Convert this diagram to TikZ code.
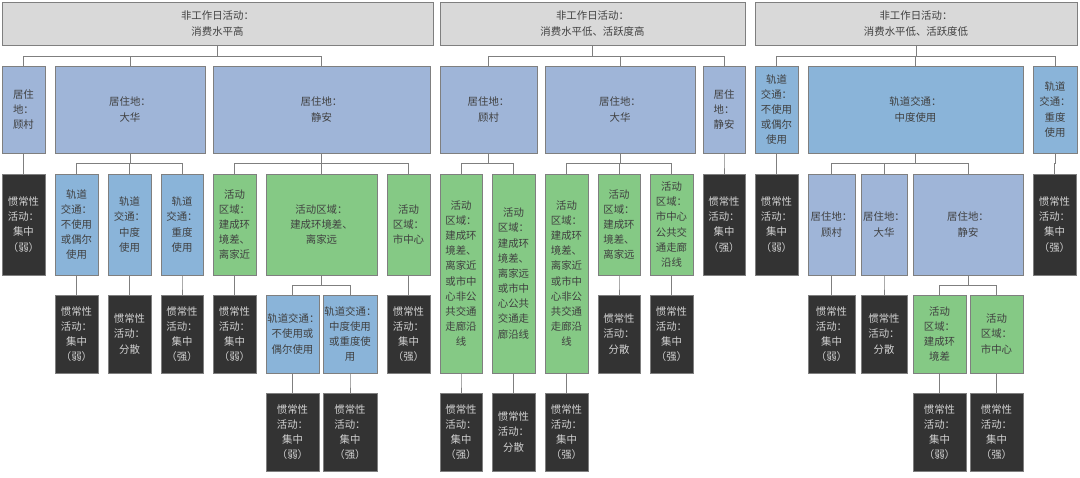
\documentclass[tikz,border=0pt]{standalone}
\usepackage{fontspec}
\setmainfont{Noto Sans CJK SC}
\usetikzlibrary{positioning}
\definecolor{topgray}{HTML}{D9D9D9}
\definecolor{homeblue}{HTML}{9FB5D8}
\definecolor{railblue}{HTML}{8AB4D9}
\definecolor{zonegreen}{HTML}{85C985}
\definecolor{habitdark}{HTML}{333333}
\definecolor{linegray}{HTML}{7F7F7F}

% box from (x1,y1) to (x2,y2) in pixels
\newcommand\bx[7]{\node[#1, minimum width={(#5-#3)*0.025cm}, minimum height={(#6-#4)*0.025cm},
  text width={(#5-#3)*0.025cm-2pt}] (#2) at ({(#3+#5)/2},{(#4+#6)/2}) {#7};}

\begin{document}
\begin{tikzpicture}[x=0.025cm, y=-0.025cm, font=\fontsize{7.4}{10.8}\selectfont]
\tikzset{
  basebox/.style={draw=linegray, line width=0.5pt, rectangle, inner sep=0pt, align=center, text=black!75},
  topbox/.style={basebox, fill=topgray},
  homebox/.style={basebox, fill=homeblue},
  railbox/.style={basebox, fill=railblue},
  zonebox/.style={basebox, fill=zonegreen},
  habitbox/.style={basebox, fill=habitdark, text=white!82!black},
  link/.style={draw=linegray, line width=0.6pt}
}
\useasboundingbox (0,0) rectangle (1080,478);
\fill[white] (0,0) rectangle (1080,478);

% top row
\bx{topbox}{T1}{2}{2}{433}{45}{非工作日活动：\\消费水平高}
\bx{topbox}{T2}{440}{2}{745}{45}{非工作日活动：\\消费水平低、活跃度高}
\bx{topbox}{T3}{755}{2}{1077}{45}{非工作日活动：\\消费水平低、活跃度低}

% second row
\bx{homebox}{A1}{2}{66}{45}{153}{居住\\地：\\顾村}
\bx{homebox}{A2}{55}{66}{205}{153}{居住地：\\大华}
\bx{homebox}{A3}{213}{66}{430}{153}{居住地：\\静安}
\bx{homebox}{B1}{440}{66}{537}{153}{居住地：\\顾村}
\bx{homebox}{B2}{545}{66}{695}{153}{居住地：\\大华}
\bx{homebox}{B3}{703}{66}{745}{153}{居住\\地：\\静安}
\bx{railbox}{C1}{755}{66}{798}{153}{轨道\\交通：\\不使用\\或偶尔\\使用}
\bx{railbox}{C2}{808}{66}{1023}{153}{轨道交通：\\中度使用}
\bx{railbox}{C3}{1033}{66}{1077}{153}{轨道\\交通：\\重度\\使用}

% third row
\bx{habitbox}{A1a}{2}{174}{45}{275}{惯常性\\活动：\\集中\\（弱）}
\bx{railbox}{A2a}{55}{174}{98}{275}{轨道\\交通：\\不使用\\或偶尔\\使用}
\bx{railbox}{A2b}{108}{174}{151}{275}{轨道\\交通：\\中度\\使用}
\bx{railbox}{A2c}{161}{174}{203}{275}{轨道\\交通：\\重度\\使用}
\bx{zonebox}{A3a}{213}{174}{256}{275}{活动\\区域：\\建成环\\境差、\\离家近}
\bx{zonebox}{A3b}{266}{174}{377}{275}{活动区域：\\建成环境差、\\离家远}
\bx{zonebox}{A3c}{387}{174}{430}{275}{活动\\区域：\\市中心}
\bx{zonebox}{B1a}{440}{174}{482}{373}{活动\\区域：\\建成环\\境差、\\离家近\\或市中\\心非公\\共交通\\走廊沿\\线}
\bx{zonebox}{B1b}{492}{174}{535}{373}{活动\\区域：\\建成环\\境差、\\离家远\\或市中\\心公共\\交通走\\廊沿线}
\bx{zonebox}{B2a}{545}{174}{588}{373}{活动\\区域：\\建成环\\境差、\\离家近\\或市中\\心非公\\共交通\\走廊沿\\线}
\bx{zonebox}{B2b}{598}{174}{640}{275}{活动\\区域：\\建成环\\境差、\\离家远}
\bx{zonebox}{B2c}{650}{174}{693}{275}{活动\\区域：\\市中心\\公共交\\通走廊\\沿线}
\bx{habitbox}{B3a}{703}{174}{745}{275}{惯常性\\活动：\\集中\\（强）}
\bx{habitbox}{C1a}{755}{174}{798}{275}{惯常性\\活动：\\集中\\（弱）}
\bx{homebox}{C2a}{808}{174}{855}{275}{居住地：\\顾村}
\bx{homebox}{C2b}{861}{174}{907}{275}{居住地：\\大华}
\bx{homebox}{C2c}{913}{174}{1023}{275}{居住地：\\静安}
\bx{habitbox}{C3a}{1033}{174}{1076}{275}{惯常性\\活动：\\集中\\（强）}

% fourth row
\bx{habitbox}{A2a1}{55}{295}{98}{373}{惯常性\\活动：\\集中\\（弱）}
\bx{habitbox}{A2b1}{108}{295}{151}{373}{惯常性\\活动：\\分散}
\bx{habitbox}{A2c1}{161}{295}{203}{373}{惯常性\\活动：\\集中\\（强）}
\bx{habitbox}{A3a1}{213}{295}{256}{373}{惯常性\\活动：\\集中\\（弱）}
\bx{railbox}{A3b1}{266}{295}{319}{373}{轨道交通：\\不使用或\\偶尔使用}
\bx{railbox}{A3b2}{323}{295}{377}{373}{轨道交通：\\中度使用\\或重度使\\用}
\bx{habitbox}{A3c1}{387}{295}{430}{373}{惯常性\\活动：\\集中\\（强）}
\bx{habitbox}{B2b1}{598}{295}{640}{373}{惯常性\\活动：\\分散}
\bx{habitbox}{B2c1}{650}{295}{693}{373}{惯常性\\活动：\\集中\\（强）}
\bx{habitbox}{C2a1}{808}{295}{855}{373}{惯常性\\活动：\\集中\\（弱）}
\bx{habitbox}{C2b1}{861}{295}{907}{373}{惯常性\\活动：\\分散}
\bx{zonebox}{C2c1}{913}{295}{966}{373}{活动\\区域：\\建成环\\境差}
\bx{zonebox}{C2c2}{970}{295}{1023}{373}{活动\\区域：\\市中心}

% fifth row
\bx{habitbox}{A3b11}{266}{393}{319}{471}{惯常性\\活动：\\集中\\（弱）}
\bx{habitbox}{A3b21}{323}{393}{377}{471}{惯常性\\活动：\\集中\\（强）}
\bx{habitbox}{B1a1}{440}{393}{482}{471}{惯常性\\活动：\\集中\\（强）}
\bx{habitbox}{B1b1}{492}{393}{535}{471}{惯常性\\活动：\\分散}
\bx{habitbox}{B2a1}{545}{393}{588}{471}{惯常性\\活动：\\集中\\（强）}
\bx{habitbox}{C2c11}{913}{393}{966}{471}{惯常性\\活动：\\集中\\（弱）}
\bx{habitbox}{C2c21}{970}{393}{1023}{471}{惯常性\\活动：\\集中\\（强）}

% connectors
\foreach \p/\c/\b in {T1/A1/56, T1/A2/56, T1/A3/56, T2/B1/56, T2/B2/56, T2/B3/56,
  T3/C1/56, T3/C2/56, T3/C3/56,
  A1/A1a/163, A2/A2a/163, A2/A2b/163, A2/A2c/163, A3/A3a/163, A3/A3b/163, A3/A3c/163,
  B1/B1a/163, B1/B1b/163, B2/B2a/163, B2/B2b/163, B2/B2c/163, B3/B3a/163,
  C1/C1a/163, C2/C2a/163, C2/C2b/163, C2/C2c/163, C3/C3a/163,
  A2a/A2a1/285, A2b/A2b1/285, A2c/A2c1/285, A3a/A3a1/285, A3b/A3b1/285, A3b/A3b2/285,
  A3c/A3c1/285, B2b/B2b1/285, B2c/B2c1/285, C2a/C2a1/285, C2b/C2b1/285,
  C2c/C2c1/285, C2c/C2c2/285,
  A3b1/A3b11/383, A3b2/A3b21/383, B1a/B1a1/383, B1b/B1b1/383, B2a/B2a1/383,
  C2c1/C2c11/383, C2c2/C2c21/383}
  \draw[link] (\p.south) -- (\p.south |- 0,\b) -| (\c.north);
\end{tikzpicture}
\end{document}
